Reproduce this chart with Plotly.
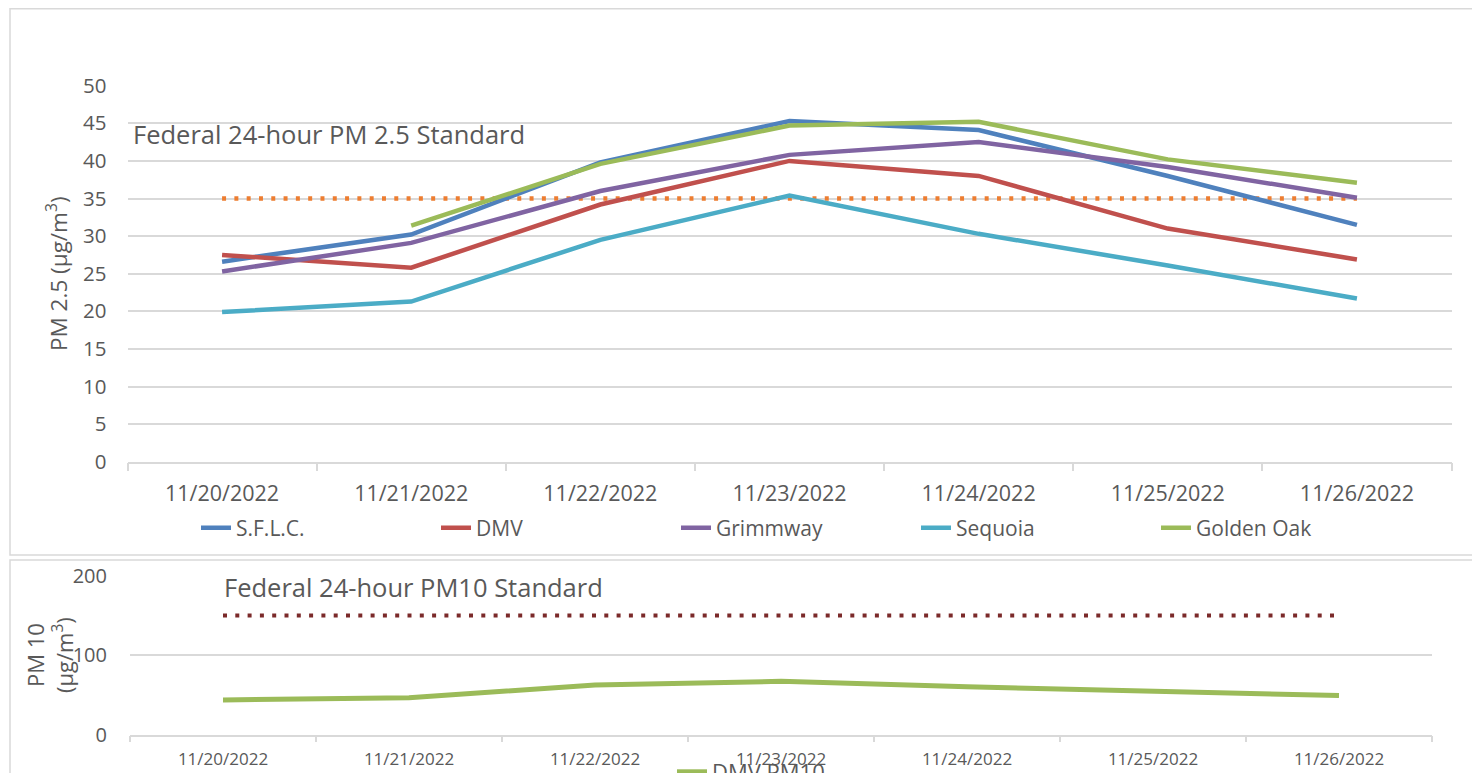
import plotly.graph_objects as go

dates = ["11/20/2022", "11/21/2022", "11/22/2022", "11/23/2022",
         "11/24/2022", "11/25/2022", "11/26/2022"]

sflc = [26.6, 30.2, 39.8, 45.3, 44.1, 38.0, 31.5]
dmv = [27.5, 25.8, 34.2, 40.0, 38.0, 31.0, 26.9]
grimmway = [25.3, 29.1, 36.0, 40.8, 42.5, 39.2, 35.1]
sequoia = [19.9, 21.3, 29.5, 35.4, 30.3, 26.1, 21.7]
golden_oak = [None, 31.4, 39.6, 44.7, 45.2, 40.2, 37.1]
pm25_standard = [35, 35, 35, 35, 35, 35, 35]

dmv_pm10 = [43.5, 46.3, 62.3, 67.0, 60.0, 55.0, 49.0]
pm10_standard = [150, 150, 150, 150, 150, 150, 150]

series = [
    ("S.F.L.C.", sflc, "#4F81BD"),
    ("DMV", dmv, "#C0504D"),
    ("Grimmway", grimmway, "#8064A2"),
    ("Sequoia", sequoia, "#4BACC6"),
    ("Golden Oak", golden_oak, "#9BBB59"),
]

OFF = 8  # default page body margin
W, H = 1480 - OFF, 773 - OFF
FONT = "Open Sans"
GRAY = "#595959"
GRID = "#d9d9d9"

def px(x):
    return (x - OFF) / W

def py(y):
    return 1 - (y - OFF) / H

fig = go.Figure()

fig.add_trace(go.Scatter(x=dates, y=pm25_standard, mode="lines", name="PM 2.5 Standard",
                         line=dict(color="#ED7D31", width=4.5, dash="4px,8.3px"),
                         showlegend=False, xaxis="x", yaxis="y"))
for name, vals, col in series:
    fig.add_trace(go.Scatter(x=dates, y=vals, mode="lines", name=name,
                             line=dict(color=col, width=4.5),
                             xaxis="x", yaxis="y", legend="legend"))

fig.add_trace(go.Scatter(x=dates, y=pm10_standard, mode="lines", name="PM10 Standard",
                         line=dict(color="#7B2A2A", width=4, dash="4px,8.3px"),
                         showlegend=False, xaxis="x2", yaxis="y2"))
fig.add_trace(go.Scatter(x=dates, y=dmv_pm10, mode="lines", name="DMV PM10",
                         line=dict(color="#9BBB59", width=5),
                         xaxis="x2", yaxis="y2", legend="legend2"))

fig.update_layout(
    width=W, height=H,
    margin=dict(l=0, r=0, t=0, b=0, autoexpand=False),
    paper_bgcolor="white", plot_bgcolor="white",
    font=dict(family=FONT, color=GRAY),
    xaxis=dict(domain=[px(127.5), px(1451.5)], anchor="y", type="category",
               range=[-0.5, 6.5], showgrid=False, showline=True, linecolor=GRID,
               linewidth=1.5, ticks="outside", tickson="boundaries", ticklen=8,
               tickcolor=GRID, tickwidth=1.5, tickfont=dict(size=21.5, color=GRAY),
               ticklabelstandoff=12, automargin=False, fixedrange=True),
    yaxis=dict(domain=[py(461.7), py(85.7)], anchor="x", range=[0, 50],
               dtick=5, showgrid=True, gridcolor=GRID, gridwidth=1.5,
               zeroline=False, showline=False, ticks="",
               tickfont=dict(size=20.5, color=GRAY), ticklabelstandoff=20,
               title=dict(text="PM 2.5 (µg/m<sup>3</sup>)", font=dict(size=22.5, color=GRAY),
                          standoff=9),
               automargin=False, fixedrange=True),
    xaxis2=dict(domain=[px(130), px(1432)], anchor="y2", type="category",
                range=[-0.5, 6.5], showgrid=False, showline=True, linecolor=GRID,
                linewidth=1.5, ticks="outside", tickson="boundaries", ticklen=6,
                tickcolor=GRID, tickwidth=1.5, tickfont=dict(size=17, color=GRAY),
                ticklabelstandoff=8, automargin=False, fixedrange=True),
    yaxis2=dict(domain=[py(734.5), py(575.7)], anchor="x2", range=[0, 200],
                dtick=100, showgrid=True, gridcolor=GRID, gridwidth=1.5,
                zeroline=False, showline=False, ticks="",
                tickfont=dict(size=20, color=GRAY), ticklabelstandoff=22,
                automargin=False, fixedrange=True),
    legend=dict(orientation="h", x=px(196), y=py(528), xanchor="left", yanchor="middle",
                font=dict(size=21, color=GRAY), entrywidth=195, entrywidthmode="pixels",
                bgcolor="rgba(0,0,0,0)"),
    legend2=dict(orientation="h", x=px(672), y=py(772), xanchor="left", yanchor="middle",
                 font=dict(size=22, color=GRAY), bgcolor="rgba(0,0,0,0)"),
    annotations=[
        dict(text="Federal 24-hour PM 2.5 Standard", xref="paper", yref="paper",
             x=px(131), y=py(134), xanchor="left", yanchor="middle", showarrow=False,
             font=dict(size=25.5, color=GRAY)),
        dict(text="Federal 24-hour PM10 Standard", xref="paper", yref="paper",
             x=px(222), y=py(587), xanchor="left", yanchor="middle", showarrow=False,
             font=dict(size=25.5, color=GRAY)),
        dict(text="PM 10<br>(µg/m<sup>3</sup>)", xref="paper", yref="paper",
             x=px(49), y=py(655), xanchor="center", yanchor="middle", showarrow=False,
             textangle=-90, font=dict(size=22, color=GRAY)),
    ],
    shapes=[
        dict(type="rect", xref="paper", yref="paper", x0=px(10), x1=px(1478),
             y0=py(555), y1=py(8.7), line=dict(color=GRID, width=1.5), layer="below"),
        dict(type="rect", xref="paper", yref="paper", x0=px(10), x1=px(1478),
             y0=py(776), y1=py(560), line=dict(color=GRID, width=1.5), layer="below"),
    ],
)

fig.write_html("out.html")
